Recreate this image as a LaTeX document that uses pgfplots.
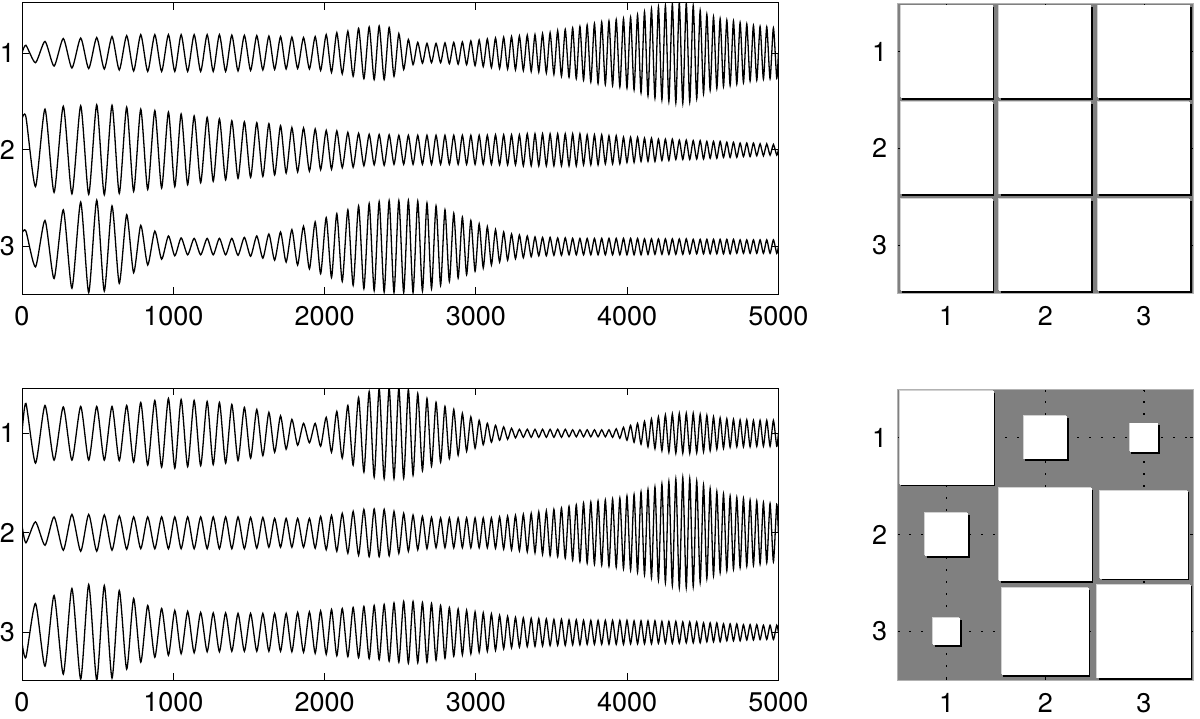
\documentclass[border=0pt]{standalone}
\usepackage{fontspec}
\setmainfont{TeX Gyre Heros}
\usepackage{pgfplots}
\usepackage{pgfplotstable}
\pgfplotsset{compat=1.18}

\pgfplotstableread{
t T1 T2 T3 B1 B2 B3
0 0 0.32 0.14 0 0.077 -0.1
26 0.08 0.34 0.16 0.30 -0.10 -0.25
89 -0.10 -0.38 -0.21 -0.30 0.11 0.29
152 0.12 0.42 0.27 0.28 -0.125 -0.34
212 -0.135 -0.44 -0.33 -0.27 0.16 0.37
273 0.15 0.45 0.38 0.265 -0.175 -0.42
330 -0.155 -0.455 -0.43 -0.27 0.185 0.44
388 0.155 0.455 0.46 0.27 -0.185 -0.47
441 -0.16 -0.46 -0.475 -0.27 0.185 0.48
494 0.16 0.465 0.48 0.27 -0.185 -0.48
544 -0.165 -0.465 -0.46 -0.27 0.18 0.47
595 0.17 0.46 0.42 0.27 -0.175 -0.46
643 -0.175 -0.45 -0.38 -0.275 0.17 0.42
692 0.18 0.44 0.33 0.28 -0.165 -0.37
738 -0.185 -0.43 -0.27 -0.29 0.16 0.34
785 0.19 0.42 0.22 0.31 -0.16 -0.30
831 -0.19 -0.41 -0.19 -0.32 0.16 0.27
878 0.19 0.405 0.16 0.33 -0.16 -0.25
923 -0.19 -0.395 -0.13 -0.34 0.16 0.24
968 0.19 0.39 0.11 0.35 -0.16 -0.23
1010 -0.19 -0.38 -0.095 -0.35 0.16 0.22
1052 0.19 0.37 0.09 0.34 -0.16 -0.215
1095 -0.19 -0.36 -0.085 -0.335 0.16 0.21
1138 0.19 0.35 0.085 0.33 -0.16 -0.205
1181 -0.19 -0.34 -0.085 -0.325 0.16 0.20
1224 0.19 0.335 0.085 0.32 -0.16 -0.195
1264 -0.19 -0.325 -0.085 -0.315 0.16 0.195
1305 0.19 0.32 0.085 0.31 -0.16 -0.195
1346 -0.19 -0.31 -0.085 -0.30 0.16 0.195
1387 0.185 0.30 0.085 0.29 -0.16 -0.19
1428 -0.185 -0.295 -0.09 -0.275 0.16 0.19
1470 0.183 0.29 0.095 0.26 -0.16 -0.19
1511 -0.18 -0.285 -0.10 -0.25 0.155 0.19
1552 0.18 0.28 0.11 0.24 -0.155 -0.19
1592 -0.175 -0.275 -0.12 -0.225 0.155 0.19
1632 0.175 0.27 0.13 0.21 -0.145 -0.19
1670 -0.17 -0.26 -0.14 -0.19 0.145 0.19
1709 0.17 0.25 0.15 0.175 -0.145 -0.19
1746 -0.165 -0.24 -0.16 -0.16 0.145 0.19
1784 0.165 0.23 0.175 0.14 -0.145 -0.195
1822 -0.16 -0.228 -0.19 -0.12 0.145 0.20
1861 0.16 0.225 0.21 0.10 -0.145 -0.20
1900 -0.165 -0.22 -0.23 -0.095 0.145 0.205
1938 0.17 0.215 0.255 0.10 -0.155 -0.21
1974 -0.18 -0.205 -0.28 -0.13 0.165 0.215
2011 0.19 0.20 0.30 0.16 -0.17 -0.22
2046 -0.20 -0.20 -0.32 -0.19 0.175 0.23
2081 0.21 0.195 0.34 0.22 -0.185 -0.235
2117 -0.215 -0.185 -0.36 -0.25 0.195 0.24
2154 0.225 0.18 0.38 0.28 -0.205 -0.245
2189 -0.24 -0.18 -0.40 -0.32 0.215 0.25
2225 0.255 0.17 0.42 0.36 -0.225 -0.255
2260 -0.265 -0.165 -0.435 -0.39 0.235 0.26
2295 0.27 0.16 0.445 0.42 -0.24 -0.265
2328 -0.275 -0.155 -0.455 -0.44 0.24 0.27
2361 0.28 0.158 0.465 0.45 -0.24 -0.275
2394 -0.275 -0.16 -0.47 -0.455 0.235 0.28
2427 0.265 0.155 0.475 0.455 -0.23 -0.29
2459 -0.24 -0.15 -0.475 -0.455 0.215 0.295
2491 0.20 0.15 0.475 0.455 -0.205 -0.30
2523 -0.17 -0.15 -0.475 -0.45 0.195 0.31
2554 0.14 0.15 0.475 0.44 -0.185 -0.31
2585 -0.12 -0.15 -0.475 -0.42 0.178 0.31
2616 0.11 0.15 0.47 0.40 -0.17 -0.305
2647 -0.105 -0.15 -0.46 -0.375 0.165 0.30
2677 0.10 0.15 0.45 0.35 -0.16 -0.30
2707 -0.10 -0.15 -0.435 -0.33 0.155 0.29
2737 0.10 0.15 0.42 0.31 -0.15 -0.28
2767 -0.10 -0.15 -0.40 -0.29 0.15 0.27
2796 0.105 0.15 0.38 0.27 -0.15 -0.26
2825 -0.11 -0.15 -0.36 -0.255 0.15 0.25
2854 0.11 0.15 0.345 0.24 -0.15 -0.24
2883 -0.115 -0.15 -0.325 -0.22 0.15 0.235
2911 0.115 0.15 0.305 0.20 -0.15 -0.225
2939 -0.12 -0.15 -0.29 -0.18 0.15 0.22
2967 0.125 0.15 0.27 0.165 -0.15 -0.215
2995 -0.13 -0.15 -0.255 -0.15 0.15 0.205
3022 0.135 0.15 0.235 0.13 -0.15 -0.20
3049 -0.14 -0.15 -0.22 -0.115 0.15 0.195
3076 0.145 0.15 0.205 0.10 -0.15 -0.19
3103 -0.15 -0.15 -0.19 -0.09 0.15 0.185
3130 0.155 0.155 0.175 0.08 -0.155 -0.18
3157 -0.16 -0.155 -0.16 -0.07 0.16 0.17
3184 0.163 0.155 0.15 0.065 -0.163 -0.165
3210 -0.166 -0.155 -0.14 -0.06 0.167 0.16
3236 0.17 0.155 0.13 0.05 -0.17 -0.155
3262 -0.173 -0.155 -0.125 -0.045 0.175 0.15
3288 0.176 0.155 0.12 0.04 -0.18 -0.148
3314 -0.18 -0.165 -0.115 -0.04 0.185 0.145
3340 0.185 0.165 0.11 0.04 -0.19 -0.143
3366 -0.19 -0.165 -0.105 -0.04 0.195 0.14
3391 0.19 0.165 0.10 0.04 -0.20 -0.14
3416 -0.195 -0.165 -0.095 -0.04 0.21 0.138
3441 0.20 0.165 0.095 0.04 -0.215 -0.136
3466 -0.205 -0.165 -0.095 -0.04 0.22 0.135
3491 0.21 0.165 0.095 0.04 -0.23 -0.133
3516 -0.22 -0.165 -0.09 -0.04 0.235 0.13
3541 0.23 0.165 0.09 0.04 -0.24 -0.13
3566 -0.24 -0.165 -0.09 -0.04 0.25 0.13
3591 0.245 0.165 0.09 0.04 -0.255 -0.13
3616 -0.25 -0.165 -0.085 -0.035 0.265 0.125
3640 0.26 0.165 0.085 0.035 -0.275 -0.125
3664 -0.265 -0.165 -0.085 -0.035 0.28 0.125
3688 0.275 0.165 0.085 0.035 -0.29 -0.125
3712 -0.28 -0.155 -0.085 -0.035 0.30 0.12
3736 0.29 0.155 0.085 0.035 -0.305 -0.12
3760 -0.30 -0.155 -0.085 -0.035 0.31 0.12
3784 0.305 0.155 0.085 0.035 -0.315 -0.12
3808 -0.315 -0.155 -0.085 -0.035 0.32 0.12
3832 0.32 0.155 0.085 0.035 -0.325 -0.12
3856 -0.325 -0.145 -0.085 -0.035 0.33 0.12
3880 0.33 0.145 0.085 0.035 -0.335 -0.12
3904 -0.335 -0.145 -0.085 -0.04 0.34 0.12
3928 0.345 0.145 0.085 0.045 -0.345 -0.12
3952 -0.35 -0.145 -0.085 -0.05 0.35 0.12
3976 0.355 0.13 0.085 0.06 -0.36 -0.12
3999 -0.36 -0.13 -0.085 -0.07 0.37 0.12
4023 0.37 0.13 0.085 0.08 -0.375 -0.115
4046 -0.38 -0.13 -0.085 -0.09 0.385 0.115
4069 0.395 0.13 0.085 0.10 -0.395 -0.115
4092 -0.41 -0.12 -0.085 -0.11 0.41 0.115
4115 0.425 0.12 0.08 0.12 -0.42 -0.115
4138 -0.44 -0.12 -0.08 -0.135 0.435 0.115
4161 0.455 0.12 0.08 0.145 -0.45 -0.115
4184 -0.465 -0.12 -0.08 -0.155 0.46 0.115
4207 0.475 0.11 0.08 0.165 -0.475 -0.11
4230 -0.485 -0.11 -0.08 -0.175 0.49 0.11
4253 0.49 0.11 0.08 0.185 -0.50 -0.11
4276 -0.50 -0.11 -0.08 -0.19 0.515 0.11
4299 0.51 0.11 0.08 0.195 -0.53 -0.11
4322 -0.515 -0.10 -0.08 -0.20 0.54 0.11
4345 0.52 0.10 0.08 0.20 -0.55 -0.11
4368 -0.52 -0.10 -0.08 -0.20 0.555 0.105
4391 0.515 0.10 0.08 0.20 -0.55 -0.105
4414 -0.505 -0.10 -0.075 -0.20 0.545 0.105
4437 0.49 0.095 0.075 0.20 -0.54 -0.105
4460 -0.47 -0.095 -0.075 -0.195 0.52 0.105
4483 0.44 0.095 0.075 0.19 -0.50 -0.105
4505 -0.42 -0.095 -0.075 -0.185 0.48 0.095
4527 0.40 0.087 0.075 0.18 -0.46 -0.095
4549 -0.385 -0.087 -0.075 -0.175 0.445 0.095
4571 0.375 0.087 0.075 0.165 -0.43 -0.095
4593 -0.365 -0.087 -0.075 -0.16 0.415 0.095
4615 0.355 0.087 0.075 0.155 -0.40 -0.095
4637 -0.345 -0.078 -0.075 -0.15 0.39 0.085
4659 0.34 0.078 0.075 0.145 -0.38 -0.085
4681 -0.335 -0.078 -0.075 -0.14 0.37 0.085
4703 0.33 0.078 0.075 0.14 -0.365 -0.085
4725 -0.32 -0.078 -0.07 -0.135 0.355 0.085
4747 0.315 0.07 0.07 0.135 -0.35 -0.085
4769 -0.305 -0.07 -0.07 -0.135 0.345 0.077
4791 0.30 0.07 0.07 0.135 -0.335 -0.077
4813 -0.29 -0.07 -0.07 -0.135 0.33 0.077
4835 0.285 0.07 0.07 0.13 -0.325 -0.077
4857 -0.28 -0.062 -0.07 -0.13 0.32 0.077
4879 0.275 0.062 0.07 0.13 -0.315 -0.072
4901 -0.27 -0.062 -0.07 -0.13 0.305 0.072
4923 0.27 0.062 0.07 0.13 -0.30 -0.072
4945 -0.265 -0.055 -0.07 -0.13 0.295 0.072
4967 0.26 0.055 0.07 0.13 -0.29 -0.072
4989 -0.26 -0.055 -0.07 -0.13 0.285 0.072
5000 0 0 0 0 0 0
}\sig

% Hinton weights (top): column, row
\pgfplotstableread{
c r
1 1
2 1
3 1
1 2
2 2
3 2
1 3
2 3
3 3
}\hinA

\begin{document}
\begin{tikzpicture}
\pgfplotsset{
  sigaxis/.style={
    scale only axis, anchor=north west, width=378.2pt,
    xmin=0, xmax=5000, y dir=reverse,
    xtick={0,1000,2000,3000,4000,5000}, ytick={1,2,3},
    tick align=inside, major tick length=3.5pt,
    tick style={black, line width=0.45pt},
    axis line style={black, line width=0.5pt},
    ticklabel style={font=\fontsize{13.5}{16}\selectfont},
    xticklabel style={yshift=-2.5pt},
    /pgf/number format/assume math mode=true,
    /pgf/number format/1000 sep={},
    scaled x ticks=false,
  },
  sig/.style={black, line width=0.65pt, smooth, tension=0.4},
  hin/.style={
    scale only axis, anchor=north west, width=148pt,
    xmin=0.5, xmax=3.5, ymin=0.5, ymax=3.5, y dir=reverse,
    xtick={1,2,3}, ytick={1,2,3},
    tick align=inside, major tick length=1.5pt,
    tick style={black, line width=0.4pt},
    axis line style={gray!60, line width=0.4pt},
    axis background/.style={fill=gray},
    ticklabel style={font=\fontsize{13.5}{16}\selectfont},
    xticklabel style={yshift=-3pt},
    yticklabel style={xshift=-1.5pt},
    /pgf/number format/assume math mode=true,
  },
  hs/.style={only marks, mark=square*, mark options={draw=black, fill=black, line width=0pt}},
  hl/.style={only marks, mark=square*, mark options={draw=gray!35, fill=gray!35, line width=0pt}},
  hw/.style={only marks, mark=square*, mark options={draw=white, fill=white, line width=0pt}},
}

% top-left signals
\begin{axis}[sigaxis, at={(11pt,-1.35pt)}, height=145.65pt, ymin=0.48, ymax=3.49]
\addplot[sig] table[x=t, y expr=1-\thisrow{T1}] {\sig};
\addplot[sig] table[x=t, y expr=2-\thisrow{T2}] {\sig};
\addplot[sig] table[x=t, y expr=3-\thisrow{T3}] {\sig};
\end{axis}

% bottom-left signals
\begin{axis}[sigaxis, at={(11pt,-194.15pt)}, height=145.85pt, ymin=0.548, ymax=3.479]
\addplot[sig] table[x=t, y expr=1-\thisrow{B1}] {\sig};
\addplot[sig] table[x=t, y expr=2-\thisrow{B2}] {\sig};
\addplot[sig] table[x=t, y expr=3-\thisrow{B3}] {\sig};
\end{axis}

% top-right Hinton (all weights ~0.925)
\begin{axis}[hin, at={(448.65pt,-1.65pt)}, height=145pt]
\addplot[hs, mark size=22.82pt] table[x expr=\thisrow{c}+0.016, y expr=\thisrow{r}+0.018] {\hinA};
\addplot[hl, mark size=22.82pt] table[x expr=\thisrow{c}-0.009, y expr=\thisrow{r}-0.009] {\hinA};
\addplot[hw, mark size=22.82pt] table[x=c, y=r] {\hinA};
\end{axis}

% bottom-right Hinton
\begin{axis}[hin, at={(448.65pt,-194.65pt)}, height=145.35pt,
  grid=major, grid style={black, line width=0.55pt, dash pattern=on 0.6pt off 5.4pt}]
% side 0.94
\addplot[hs, mark size=23.19pt] coordinates {(1.016,1.018) (3.016,3.018)};
\addplot[hl, mark size=23.19pt] coordinates {(0.991,0.991) (2.991,2.991)};
\addplot[hw, mark size=23.19pt] coordinates {(1,1) (3,3)};
% side 0.43
\addplot[hs, mark size=10.61pt] coordinates {(2.016,1.018)};
\addplot[hl, mark size=10.61pt] coordinates {(1.991,0.991)};
\addplot[hw, mark size=10.61pt] coordinates {(2,1)};
% side 0.28
\addplot[hs, mark size=6.91pt] coordinates {(3.016,1.018)};
\addplot[hl, mark size=6.91pt] coordinates {(2.991,0.991)};
\addplot[hw, mark size=6.91pt] coordinates {(3,1)};
% side 0.425
\addplot[hs, mark size=10.48pt] coordinates {(1.016,2.018)};
\addplot[hl, mark size=10.48pt] coordinates {(0.991,1.991)};
\addplot[hw, mark size=10.48pt] coordinates {(1,2)};
% side 0.93
\addplot[hs, mark size=22.94pt] coordinates {(2.016,2.018)};
\addplot[hl, mark size=22.94pt] coordinates {(1.991,1.991)};
\addplot[hw, mark size=22.94pt] coordinates {(2,2)};
% side 0.88
\addplot[hs, mark size=21.71pt] coordinates {(3.016,2.018)};
\addplot[hl, mark size=21.71pt] coordinates {(2.991,1.991)};
\addplot[hw, mark size=21.71pt] coordinates {(3,2)};
% side 0.265
\addplot[hs, mark size=6.54pt] coordinates {(1.016,3.018)};
\addplot[hl, mark size=6.54pt] coordinates {(0.991,2.991)};
\addplot[hw, mark size=6.54pt] coordinates {(1,3)};
% side 0.87
\addplot[hs, mark size=21.46pt] coordinates {(2.016,3.018)};
\addplot[hl, mark size=21.46pt] coordinates {(1.991,2.991)};
\addplot[hw, mark size=21.46pt] coordinates {(2,3)};
\end{axis}

\pgfresetboundingbox
\path[use as bounding box] (0,0) rectangle (600pt,-359pt);
\end{tikzpicture}
\end{document}
